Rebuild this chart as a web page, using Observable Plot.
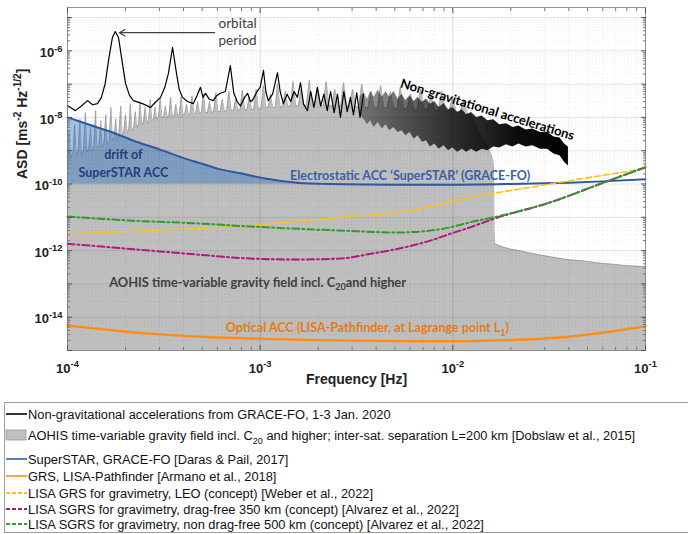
<!DOCTYPE html>
<html><head><meta charset="utf-8">
<script src="https://cdn.jsdelivr.net/npm/d3@7"></script>
<script src="https://cdn.jsdelivr.net/npm/@observablehq/plot@0.6"></script>
<style>
body{margin:0;background:#fff;}
#wrap{position:relative;width:688px;height:534px;overflow:hidden;background:#fff;}
#chart{position:absolute;left:0;top:0;}
#legend{position:absolute;left:4px;top:402px;width:690px;height:131px;border:1px solid #a0a0a0;box-sizing:border-box;font-family:"Liberation Sans",Arial,sans-serif;font-size:12.85px;color:#111;}
.row{position:absolute;left:0;height:18px;display:flex;align-items:center;white-space:nowrap;}
.row svg{display:block;margin-right:1px;}
sub{font-size:9px;vertical-align:-4px;line-height:0;}
</style></head><body><div id="wrap"><div id="chart"></div><div id="legend"></div></div>
<script>
// ---------- axis ticks ----------
const freqTicks = [1e-4, 1e-3, 1e-2, 1e-1];
const asdLabelTicks = [1e-14, 1e-12, 1e-10, 1e-8, 1e-6];
const asdDecades = [1e-15, 1e-14, 1e-13, 1e-12, 1e-11, 1e-10, 1e-9, 1e-8, 1e-7, 1e-6, 1e-5];

// ---------- series: [frequency Hz, ASD m s^-2 Hz^-1/2] ----------
const nonGrav = [
 [1e-4,2.3e-8],[1.05e-4,1.9e-8],[1.1e-4,1.6e-8],[1.18e-4,2.2e-8],[1.27e-4,3.2e-8],[1.35e-4,2.4e-8],
 [1.43e-4,2.6e-8],[1.5e-4,4e-8],[1.57e-4,1.05e-7],[1.64e-4,6e-7],[1.71e-4,2.5e-6],[1.77e-4,3.8e-6],
 [1.84e-4,2.5e-6],[1.91e-4,6e-7],[2e-4,1.05e-7],[2.1e-4,4.5e-8],[2.2e-4,3.2e-8],[2.45e-4,2.6e-8],
 [2.7e-4,2e-8],[2.85e-4,2.8e-8],[3.04e-4,4e-8],[3.2e-4,8e-8],[3.34e-4,2.1e-7],[3.51e-4,1.26e-6],
 [3.68e-4,2.1e-7],[3.8e-4,7e-8],[3.95e-4,4e-8],[4.2e-4,3e-8],[4.5e-4,2.6e-8],[4.7e-4,4.5e-8],
 [4.9e-4,8e-8],[5.05e-4,4e-8],[5.2e-4,5.3e-8],[5.45e-4,3.5e-8],[5.7e-4,3.2e-8],[5.95e-4,4.5e-8],
 [6.2e-4,5.3e-8],[6.6e-4,6e-8],[7.0e-4,3.6e-7],[7.3e-4,5.3e-8],[7.6e-4,3e-8],[7.9e-4,2.2e-8],
 [8.3e-4,4e-8],[8.6e-4,5.3e-8],[8.9e-4,3e-8],[9.1e-4,3.2e-8],[9.7e-4,6.4e-8],[1.0e-3,8e-8],
 [1.04e-3,2.6e-7],[1.07e-3,6e-8],[1.1e-3,3.2e-8],[1.16e-3,5e-8],[1.23e-3,2.2e-7],[1.27e-3,6e-8],
 [1.32e-3,2.6e-8],[1.38e-3,5e-8],[1.44e-3,3e-8],[1.5e-3,6e-8],[1.56e-3,4e-8],[1.62e-3,1.1e-7],
 [1.68e-3,2.5e-8],[1.76e-3,1.6e-8],[1.83e-3,6e-8],[1.9e-3,2e-8],[1.98e-3,8e-8],[2.06e-3,2.2e-8],
 [2.14e-3,5e-8],[2.23e-3,1.6e-8],[2.32e-3,6e-8],[2.42e-3,1.4e-8],[2.52e-3,5e-8],[2.61e-3,1e-8],
 [2.72e-3,6e-8],[2.83e-3,1.5e-8],[2.94e-3,4e-8],[3.05e-3,1.2e-8],[3.17e-3,5.5e-8],[3.3e-3,1e-8],
 [3.44e-3,5e-8]
];
// dense high-frequency part of the same record: [frequency, lower envelope, upper envelope]
const nonGravBand = [
 [3.3e-3,1.2e-8,4e-8],[3.45e-3,9e-9,5.5e-8],[3.6e-3,6e-9,3.5e-8],[3.75e-3,8e-9,6e-8],[3.9e-3,5e-9,4e-8],
 [4.1e-3,7e-9,6.5e-8],[4.3e-3,4.5e-9,4e-8],[4.5e-3,6e-9,6e-8],[4.7e-3,4e-9,4e-8],[4.95e-3,5e-9,6e-8],
 [5.2e-3,3.5e-9,3.5e-8],[5.45e-3,4e-9,5e-8],[5.7e-3,2.8e-9,3.2e-8],[6.0e-3,3.5e-9,4.5e-8],[6.3e-3,2.2e-9,3e-8],
 [6.6e-3,2.8e-9,4e-8],[6.95e-3,1.8e-9,2.8e-8],[7.3e-3,2e-9,3.6e-8],[7.65e-3,1.3e-9,2.5e-8],[8.05e-3,1.6e-9,3e-8],
 [8.5e-3,1.1e-9,2e-8],[9e-3,1.4e-9,2.6e-8],[9.5e-3,1e-9,1.7e-8],[1.0e-2,1.2e-9,2e-8],[1.06e-2,9e-10,1.4e-8],
 [1.12e-2,1.1e-9,1.7e-8],[1.18e-2,9e-10,1.2e-8],[1.25e-2,1.1e-9,1.4e-8],[1.33e-2,9e-10,1e-8],[1.42e-2,1.1e-9,1.1e-8],
 [1.52e-2,1e-9,8e-9],[1.63e-2,1.3e-9,8.5e-9],[1.75e-2,1.2e-9,6e-9],[1.9e-2,1.5e-9,6.5e-9],[2.05e-2,1.3e-9,5e-9],
 [2.2e-2,1.6e-9,5.5e-9],[2.4e-2,1.3e-9,4.2e-9],[2.6e-2,1.4e-9,4.5e-9],[2.85e-2,1.1e-9,3.5e-9],[3.1e-2,1.1e-9,3.6e-9],
 [3.35e-2,8e-10,2.6e-9],[3.6e-2,7e-10,2.4e-9],[3.8e-2,4.5e-10,1.6e-9],[3.98e-2,3.5e-10,1.3e-9]
];
const aohis = [
 [1.0e-4,7e-10],[1.02e-4,4e-9],[1.04e-4,6e-10],[1.07e-4,9e-10],[1.09e-4,6e-9],[1.11e-4,7e-10],[1.14e-4,1.1e-9],
 [1.16e-4,9e-9],[1.18e-4,8e-10],[1.21e-4,1e-9],[1.24e-4,1.4e-8],[1.26e-4,9e-10],[1.29e-4,1.2e-9],[1.32e-4,5e-9],
 [1.34e-4,1e-9],[1.37e-4,1.3e-9],[1.40e-4,1.6e-8],[1.42e-4,1.2e-9],[1.46e-4,1.5e-9],[1.49e-4,8e-9],[1.51e-4,1.3e-9],
 [1.55e-4,1.8e-9],[1.58e-4,1.2e-8],[1.61e-4,1.6e-9],[1.65e-4,2e-9],[1.68e-4,2e-8],[1.71e-4,2e-9],[1.75e-4,2.5e-9],
 [1.78e-4,9e-9],[1.81e-4,2.2e-9],[1.85e-4,3e-9],[1.89e-4,2.2e-8],[1.92e-4,3e-9],[1.96e-4,3.5e-9],[2.0e-4,1.2e-8],
 [2.04e-4,3.5e-9],[2.08e-4,4e-9],[2.12e-4,2.6e-8],[2.16e-4,4e-9],[2.21e-4,5e-9],[2.25e-4,1.5e-8],[2.29e-4,5e-9],
 [2.34e-4,6e-9],[2.38e-4,3e-8],[2.43e-4,6e-9],
 [2.48e-4,7e-9],[2.53e-4,2e-8],[2.58e-4,7e-9],[2.64e-4,8e-9],[2.69e-4,3.5e-8],[2.74e-4,8e-9],[2.8e-4,9e-9],
 [2.85e-4,2e-8],[2.9e-4,9e-9],[2.97e-4,1e-8],[3.03e-4,3.8e-8],[3.09e-4,1e-8],[3.16e-4,1e-8],[3.22e-4,2.2e-8],
 [3.29e-4,1e-8],[3.36e-4,1.1e-8],[3.43e-4,4e-8],[3.5e-4,1.1e-8],[3.58e-4,1.1e-8],[3.65e-4,2.5e-8],[3.73e-4,1.1e-8],
 [3.81e-4,1.2e-8],[3.89e-4,4.2e-8],[3.97e-4,1.2e-8],[4.06e-4,1.2e-8],[4.15e-4,2.5e-8],[4.24e-4,1.2e-8],[4.33e-4,1.3e-8],
 [4.43e-4,4.5e-8],[4.53e-4,1.3e-8],[4.63e-4,1.3e-8],[4.74e-4,3e-8],[4.85e-4,1.3e-8],[4.96e-4,1.4e-8],[5.08e-4,5e-8],
 [5.2e-4,1.4e-8],[5.33e-4,1.4e-8],[5.46e-4,3e-8],[5.6e-4,1.4e-8],[5.74e-4,1.5e-8],[5.89e-4,5.5e-8],[6.04e-4,1.5e-8],
 [6.2e-4,1.5e-8],[6.36e-4,3.5e-8],[6.53e-4,1.5e-8],[6.7e-4,1.6e-8],[6.88e-4,6e-8],[7.07e-4,1.6e-8],[7.26e-4,1.6e-8],
 [7.46e-4,3.5e-8],[7.66e-4,1.6e-8],[7.87e-4,1.7e-8],[8.09e-4,6.5e-8],[8.31e-4,1.7e-8],[8.54e-4,1.7e-8],[8.78e-4,4e-8],
 [9.02e-4,1.7e-8],[9.27e-4,1.8e-8],[9.53e-4,7e-8],[9.8e-4,1.8e-8],
 [1.01e-3,1.8e-8],[1.04e-3,9e-8],[1.07e-3,2e-8],[1.1e-3,2e-8],[1.13e-3,5e-8],[1.16e-3,2e-8],[1.2e-3,2e-8],
 [1.23e-3,1e-7],[1.27e-3,2e-8],[1.31e-3,2.2e-8],[1.35e-3,6e-8],[1.39e-3,2.2e-8],[1.44e-3,2.2e-8],[1.48e-3,1.2e-7],
 [1.53e-3,2.2e-8],[1.58e-3,2.3e-8],[1.63e-3,7e-8],[1.68e-3,2.3e-8],[1.74e-3,2.3e-8],[1.8e-3,1.3e-7],[1.86e-3,2.3e-8],
 [1.92e-3,2.3e-8],[1.99e-3,8e-8],[2.06e-3,2.3e-8],[2.13e-3,2.3e-8],[2.2e-3,1.2e-7],[2.28e-3,2.3e-8],[2.36e-3,2.2e-8],
 [2.44e-3,7e-8],[2.53e-3,2.2e-8],[2.62e-3,2.2e-8],[2.71e-3,1.1e-7],[2.81e-3,2.2e-8],[2.91e-3,2.1e-8],[3.02e-3,7e-8],
 [3.13e-3,2.1e-8],[3.25e-3,2e-8],[3.37e-3,1e-7],[3.5e-3,2e-8],[3.63e-3,2e-8],[3.77e-3,6e-8],[3.91e-3,2e-8],
 [4.06e-3,1.9e-8],[4.22e-3,9e-8],[4.39e-3,1.9e-8],[4.56e-3,1.9e-8],[4.74e-3,6e-8],[4.93e-3,1.9e-8],[5.13e-3,1.8e-8],
 [5.34e-3,8e-8],[5.56e-3,1.8e-8],[5.79e-3,1.8e-8],[6.03e-3,5e-8],[6.28e-3,1.8e-8],[6.54e-3,1.7e-8],[6.81e-3,7e-8],
 [7.1e-3,1.7e-8],[7.4e-3,1.7e-8],[7.72e-3,4.5e-8],[8.05e-3,1.6e-8],[8.4e-3,1.6e-8],[8.77e-3,6e-8],[9.15e-3,1.6e-8],
 [9.55e-3,1.5e-8],[9.97e-3,4e-8],[1.04e-2,1.5e-8],[1.09e-2,1.4e-8],[1.14e-2,3.5e-8],[1.19e-2,1.3e-8],[1.24e-2,1.1e-8],
 [1.3e-2,7e-9],[1.36e-2,4e-9],[1.43e-2,2.2e-9],[1.5e-2,1.4e-9],[1.56e-2,9e-10],[1.6e-2,6e-10],[1.625e-2,4e-10],
 [1.635e-2,5e-12],[1.65e-2,1.6e-12],[1.75e-2,1.4e-12],[1.85e-2,1.25e-12],[2.0e-2,1.1e-12],[2.2e-2,1.0e-12],
 [2.5e-2,8.5e-13],[2.8e-2,7.5e-13],[3.2e-2,6.5e-13],[3.6e-2,5.8e-13],[4.0e-2,5.3e-13],[4.6e-2,5.0e-13],
 [5.3e-2,4.5e-13],[6.0e-2,4.1e-13],[7.0e-2,3.8e-13],[8.0e-2,3.5e-13],[9.0e-2,3.4e-13],[1e-1,3.3e-13]
];
const superStar = [
 [1e-4,1e-8],[1.3e-4,6e-9],[1.7e-4,3.6e-9],[2.2e-4,2e-9],[3e-4,1.1e-9],[4e-4,6e-10],[4.9e-4,4.2e-10],
 [6e-4,2.9e-10],[7.9e-4,2.1e-10],[1.04e-3,1.5e-10],[1.56e-3,1.1e-10],[2.3e-3,1e-10],[5e-3,9.5e-11],
 [1e-2,9.5e-11],[2e-2,1e-10],[4e-2,1.1e-10],[6e-2,1.2e-10],[1e-1,1.4e-10]
];
const superStarFloor = 1e-10;
const lisaPathfinder = [
 [1e-4,5.6e-15],[1.5e-4,4.4e-15],[2.2e-4,3.5e-15],[3.2e-4,3e-15],[4.9e-4,2.6e-15],[7.9e-4,2.35e-15],
 [1.2e-3,2.2e-15],[2e-3,2.05e-15],[4e-3,1.95e-15],[7e-3,1.9e-15],[1e-2,1.9e-15],[1.6e-2,2e-15],
 [2.2e-2,2.1e-15],[3e-2,2.3e-15],[4e-2,2.6e-15],[5.5e-2,3.2e-15],[7e-2,3.9e-15],[8.5e-2,4.6e-15],[1e-1,5.4e-15]
];
const lisaGrsLeo = [
 [1e-4,3.2e-12],[2.2e-4,3.8e-12],[4.9e-4,4.7e-12],[7.9e-4,5.4e-12],[1.5e-3,7.5e-12],[2.6e-3,1e-11],
 [5.1e-3,1.4e-11],[7.6e-3,2.1e-11],[1e-2,3e-11],[1.5e-2,4.8e-11],[2.2e-2,7e-11],[3.2e-2,1e-10],
 [4.7e-2,1.45e-10],[7e-2,2.1e-10],[1e-1,2.9e-10]
];
const sgrsDragFree = [
 [1e-4,1.6e-12],[2.2e-4,1.1e-12],[4.9e-4,7.5e-13],[7.9e-4,6e-13],[1.56e-3,5.4e-13],[2.61e-3,5.8e-13],
 [3.75e-3,8e-13],[7.65e-3,2e-12],[9.7e-3,3.2e-12],[1.23e-2,5e-12],[1.63e-2,9e-12],[3.2e-2,2.8e-11],
 [5.8e-2,1e-10],[1e-1,3.2e-10]
];
const sgrsNonDragFree = [
 [1e-4,1.05e-11],[2.2e-4,7.9e-12],[4.9e-4,6.5e-12],[7.9e-4,5.5e-12],[2.61e-3,4e-12],[5.15e-3,3.5e-12],
 [7.65e-3,4e-12],[9.7e-3,5e-12],[1.23e-2,7.1e-12],[1.63e-2,1e-11],[3.2e-2,2.8e-11],[5.8e-2,1e-10],[1e-1,3.2e-10]
];

// ---------- annotations: [frequency, ASD, text] ----------
const orbitalLabel = [[6.08e-4, 3.9e-6, "orbital\nperiod"]];
const orbitalArrow = [[5.8e-4, 3.5e-6, 1.86e-4, 3.5e-6]];
const nonGravLabel = [[1.51e-2, 1.7e-8, "Non-gravitational accelerations"]];
const driftLabel = [[1.95e-4, 7.2e-10, "drift of"], [1.95e-4, 2.2e-10, "SuperSTAR ACC"]];
const esaLabel = [[6e-3, 1.8e-10, "Electrostatic ACC \u2018SuperSTAR\u2019 (GRACE-FO)"]];
const aohisLabel = [[9.7e-4, 1.1e-13, "AOHIS time-variable gravity field incl. C_{20}and higher"]];
const opticalLabel = [[3.6e-3, 4.6e-15, "Optical ACC (LISA-Pathfinder, at Lagrange point L_{1})"]];

// ---------- legend ----------
const legendLabels = [
 "Non-gravitational accelerations from GRACE-FO, 1-3 Jan. 2020",
 "AOHIS time-variable gravity field incl. C<sub>20</sub> and higher; inter-sat. separation L=200 km [Dobslaw et al., 2015]",
 "SuperSTAR, GRACE-FO [Daras &amp; Pail, 2017]",
 "GRS, LISA-Pathfinder [Armano et al., 2018]",
 "LISA GRS for gravimetry, LEO (concept) [Weber et al., 2022]",
 "LISA SGRS for gravimetry, drag-free 350 km (concept) [Alvarez et al., 2022]",
 "LISA SGRS for gravimetry, non drag-free 500 km (concept) [Alvarez et al., 2022]"
];
const legendColors = ["#000000", "#bfbfbf", "#3560a8", "#ff8a14", "#ffc20e", "#b0187c", "#33992e"];
const legendKinds = ["line", "patch", "line", "line", "dash", "dash", "dash"];

// ---------- styles ----------
const C = {gray:"#bfbfbf", grayLine:"#939393", blue:"#2f58a0", blueFill:"#266ebc", orange:"#ff8c14",
  yellow:"#ffc20e", magenta:"#b0187c", green:"#33992e", text:"#404040"};
const axisFont = "'Liberation Sans', Arial, sans-serif";
const annoFont = "Lato, 'Open Sans', sans-serif";

const freqMinor = [];
for (const d of [1e-4, 1e-3, 1e-2]) for (let k = 2; k < 10; k++) freqMinor.push(k * d);
const asdMinor = [];
for (const d of asdDecades) for (let k = 2; k < 10; k++) if (k * d < 2e-5) asdMinor.push(k * d);

const fx = d => d[0], fy = d => d[1];

const defsMark = () => {
  const ns = "http://www.w3.org/2000/svg";
  const g = document.createElementNS(ns, "defs");
  g.innerHTML = `<linearGradient id="bandGrad" x1="0" x2="1" y1="0" y2="0">
    <stop offset="0" stop-color="#000" stop-opacity="0.4"/>
    <stop offset="0.5" stop-color="#000" stop-opacity="0.8"/>
    <stop offset="0.75" stop-color="#000" stop-opacity="0.95"/>
    <stop offset="1" stop-color="#000" stop-opacity="1"/></linearGradient>`;
  return g;
};

const chart = Plot.plot({
  width: 688, height: 395,
  marginLeft: 67, marginRight: 43, marginTop: 7, marginBottom: 45,
  x: {type: "log", domain: [1e-4, 1e-1]},
  y: {type: "log", domain: [1e-15, 2e-5]},
  style: {background: "#fff", fontFamily: axisFont},
  marks: [
    defsMark,
    // AOHIS grey area
    Plot.areaY(aohis, {x: fx, y1: 1e-15, y2: fy, fill: C.gray}),
    Plot.lineY(aohis, {x: fx, y: fy, stroke: C.grayLine, strokeWidth: 0.7}),
    // drift of SuperSTAR (blue fill)
    Plot.areaY(superStar.filter(d => d[0] <= 2.3e-3), {x: fx, y1: superStarFloor, y2: fy, fill: C.blueFill, fillOpacity: 0.42, curve: "monotone-x"}),
    // grid
    Plot.gridX(freqMinor, {stroke: "#000", strokeOpacity: 0.07, strokeDasharray: "1.5,2"}),
    Plot.gridY(asdMinor, {stroke: "#000", strokeOpacity: 0.06, strokeDasharray: "1.5,2"}),
    Plot.gridX(freqTicks, {stroke: "#000", strokeOpacity: 0.12}),
    Plot.gridY(asdDecades, {stroke: "#000", strokeOpacity: 0.1}),
    // non-gravitational accelerations
    Plot.areaY(nonGravBand, {x: d => d[0], y1: d => d[1], y2: d => d[2], fill: "url(#bandGrad)"}),
    Plot.lineY(nonGrav, {x: fx, y: fy, stroke: "#000", strokeWidth: 1.2}),
    // sensors
    Plot.lineY(superStar, {x: fx, y: fy, stroke: C.blue, strokeWidth: 2, curve: "monotone-x"}),
    Plot.lineY(lisaGrsLeo, {x: fx, y: fy, stroke: C.yellow, strokeWidth: 1.6, strokeDasharray: "6,3", curve: "monotone-x"}),
    Plot.lineY(sgrsDragFree, {x: fx, y: fy, stroke: C.magenta, strokeWidth: 2, strokeDasharray: "7,3,2,3", curve: "monotone-x"}),
    Plot.lineY(sgrsNonDragFree, {x: fx, y: fy, stroke: C.green, strokeWidth: 2, strokeDasharray: "7,3,2,3", curve: "monotone-x"}),
    Plot.lineY(lisaPathfinder, {x: fx, y: fy, stroke: C.orange, strokeWidth: 2.4, curve: "monotone-x"}),
    // annotations
    Plot.arrow(orbitalArrow, {x1: d => d[0], y1: d => d[1], x2: d => d[2], y2: d => d[3], stroke: "#404040", strokeWidth: 1.2, headLength: 8}),
    Plot.text(orbitalLabel, {x: fx, y: fy, text: d => d[2], textAnchor: "start", fill: C.text, fontSize: 13.5, lineHeight: 1.25, fontFamily: annoFont}),
    Plot.text(nonGravLabel, {x: fx, y: fy, text: d => d[2], rotate: 17, fill: "#000", fontSize: 13, fontWeight: "bold", fontFamily: annoFont}),
    Plot.text(driftLabel, {x: fx, y: fy, text: d => d[2], fill: "#1f3f7a", fontSize: 12.5, fontWeight: "bold", fontFamily: annoFont}),
    Plot.text(esaLabel, {x: fx, y: fy, text: d => d[2], fill: "#3a5fa6", fontSize: 12.5, fontWeight: "bold", fontFamily: annoFont}),
    Plot.text(aohisLabel, {x: fx, y: fy, text: d => d[2], fill: C.text, fontSize: 12.8, fontWeight: "bold", fontFamily: annoFont}),
    Plot.text(opticalLabel, {x: fx, y: fy, text: d => d[2], fill: "#e57c10", fontSize: 12.5, fontWeight: "bold", fontFamily: annoFont}),
    // frame and ticks
    Plot.frame({stroke: "#7a7a7a", strokeWidth: 0.8}),
    Plot.axisX(freqTicks, {anchor: "bottom", tickSize: -5, tickFormat: () => "", stroke: "#555"}),
    Plot.axisX(freqTicks, {anchor: "top", tickSize: -5, tickFormat: () => "", stroke: "#555"}),
    Plot.axisX(freqMinor, {anchor: "bottom", tickSize: -3, tickFormat: () => "", stroke: "#777"}),
    Plot.axisX(freqMinor, {anchor: "top", tickSize: -3, tickFormat: () => "", stroke: "#777"}),
    Plot.axisY(asdDecades, {anchor: "left", tickSize: -5, tickFormat: () => "", stroke: "#555"}),
    Plot.axisY(asdDecades, {anchor: "right", tickSize: -5, tickFormat: () => "", stroke: "#555"}),
    Plot.axisY(asdMinor, {anchor: "left", tickSize: -3, tickFormat: () => "", stroke: "#777"}),
    Plot.axisY(asdMinor, {anchor: "right", tickSize: -3, tickFormat: () => "", stroke: "#777"}),
    Plot.axisX(freqTicks, {anchor: "bottom", tickSize: 0, tickPadding: 13, fontSize: 13, fontWeight: "bold", fill: "#222",
      tickFormat: d => `10^{${Math.round(Math.log10(d))}}`}),
    Plot.axisY(asdLabelTicks, {anchor: "left", tickSize: 0, tickPadding: 5, dy: 2, fontSize: 13, fontWeight: "bold", fill: "#222",
      tickFormat: d => `10^{${Math.round(Math.log10(d))}}`}),
    Plot.text(["Frequency [Hz]"], {frameAnchor: "bottom", dy: 33, text: d => d, fontSize: 14, fontWeight: "bold", fill: "#222"}),
    Plot.text(["ASD [ms^{-2} Hz^{-1/2}]"], {frameAnchor: "left", dx: -45, rotate: -90, text: d => d, fontSize: 14, fontWeight: "bold", fill: "#222"})
  ]
});
document.getElementById("chart").appendChild(chart);

// convert ^{..} and _{..} markup into tspans
function richify(svg) {
  const ns = "http://www.w3.org/2000/svg";
  svg.querySelectorAll("text").forEach(t => {
    const targets = t.querySelectorAll("tspan").length ? Array.from(t.querySelectorAll("tspan")) : [t];
    targets.forEach(el => {
      const s = el.textContent;
      if (!/[\^_]\{/.test(s)) return;
      const fs = parseFloat(getComputedStyle(el).fontSize) || 13;
      const re = /(\^|_)\{([^}]*)\}|([^\^_]+)/g;
      let m, shift = 0;
      const parts = [];
      while ((m = re.exec(s))) parts.push(m[3] !== undefined ? {t: m[3], k: 0} : {t: m[2], k: m[1] === "^" ? 1 : -1});
      el.textContent = "";
      for (const p of parts) {
        const ts = document.createElementNS(ns, "tspan");
        const target = p.k === 1 ? -0.42 * fs : p.k === -1 ? 0.3 * fs : 0;
        const d = target - shift;
        if (d !== 0) ts.setAttribute("dy", d.toFixed(2));
        shift = target;
        if (p.k !== 0) ts.setAttribute("font-size", (0.72 * fs).toFixed(2));
        ts.textContent = p.t;
        el.appendChild(ts);
      }
    });
  });
}
richify(chart);

// legend
const legendCenters = [11, 32, 56, 73, 90, 106, 121];
const lg = document.getElementById("legend");
legendLabels.forEach((lab, i) => {
  const row = document.createElement("div");
  row.className = "row";
  row.style.top = (legendCenters[i] - 9) + "px";
  const col = legendColors[i], kind = legendKinds[i];
  let sw;
  if (kind === "patch") sw = `<svg width="22" height="18"><rect x="1" y="4" width="20" height="10" fill="${col}" stroke="#9a9a9a" stroke-width="0.8"/></svg>`;
  else sw = `<svg width="22" height="18"><line x1="1" x2="22" y1="9" y2="9" stroke="${col}" stroke-width="${kind === "dash" ? 2 : 1.6}" ${kind === "dash" ? 'stroke-dasharray="4,2"' : ""}/></svg>`;
  row.innerHTML = sw + `<span>${lab}</span>`;
  lg.appendChild(row);
});
</script></body></html>
